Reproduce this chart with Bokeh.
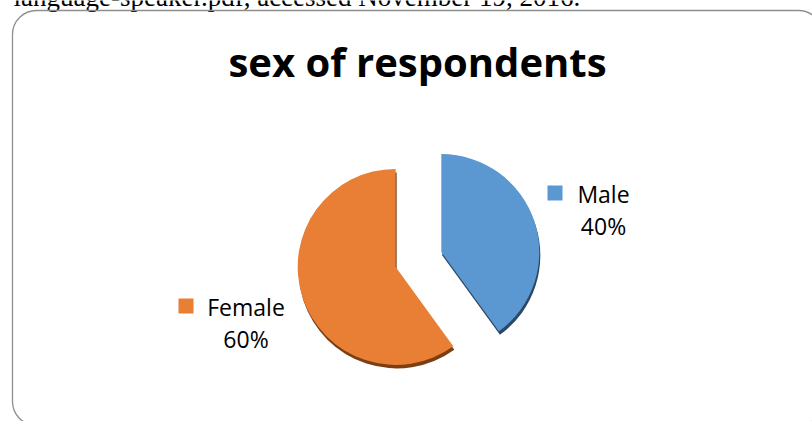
import math
from bokeh.plotting import figure
from bokeh.models import Range1d, ColumnDataSource
from bokeh.core.properties import value
from bokeh.embed import file_html
from bokeh.resources import INLINE

# ---- data ----
categories = ["Male", "Female"]
counts = [40, 60]
colors = ["#5b98d2", "#e97e35"]
shadow_colors = ["#2b4966", "#7a3f14"]

title_text = "sex of respondents"
header_text = "language-speaker.pdf, accessed November 19, 2016."

# ---- layout (page pixels; data y = -page y) ----
W, H = 812, 421
p = figure(width=W, height=H, output_backend="svg", toolbar_location=None,
           x_range=Range1d(0, W), y_range=Range1d(-H, 0),
           min_border=0)
p.axis.visible = False
p.grid.visible = False
p.outline_line_color = None
p.background_fill_color = "white"
p.border_fill_color = "white"

# header text line (cut off at top of page, as in the source document)
p.text(x=[13], y=[3.5], text=[header_text], text_align="left",
       text_baseline="alphabetic", text_font=value("Liberation Serif"),
       text_font_size="27px", text_color="black")

# chart frame (rounded)
p.quad(left=[12], right=[822], top=[-10], bottom=[-425], border_radius=24,
       fill_alpha=0, line_color="#8e8e8e", line_width=1.3)

# title
p.text(x=[417], y=[-61], text=[title_text], text_align="center",
       text_baseline="alphabetic", text_font=value("Open Sans"),
       text_font_style="bold", text_font_size="40px", text_color="black")

# pie geometry
cx, cy = 418, -259
R = 98
explode = 24
total = sum(counts)
start = math.pi / 2
starts, ends, xs, ys = [], [], [], []
a = start
for c in counts:
    sweep = 2 * math.pi * c / total
    e = a - sweep                      # clockwise
    mid = (a + e) / 2
    xs.append(cx + explode * math.cos(mid))
    ys.append(cy + explode * math.sin(mid))
    starts.append(e)
    ends.append(a)
    a = e

src = ColumnDataSource(dict(
    x=xs, y=ys, sx=[v + 1 for v in xs], sy=[v - 3.5 for v in ys],
    start=starts, end=ends, color=colors, shadow=shadow_colors))

p.wedge(x="sx", y="sy", radius=R, start_angle="start", end_angle="end",
        direction="anticlock", fill_color="shadow", line_color=None, source=src)
p.wedge(x="x", y="y", radius=R, start_angle="start", end_angle="end",
        direction="anticlock", fill_color="color", line_color=None, source=src)

# data labels with legend keys
pcts = ["%d%%" % round(100 * c / total) for c in counts]
lab_x = [603, 245.5]
lab_y = [-193, -306]
lab = ColumnDataSource(dict(x=lab_x, y=lab_y, y2=[v - 32 for v in lab_y],
                            name=categories, pct=pcts, color=colors,
                            kx=[554.5, 185.5], ky=[-192.5, -305.5]))
p.rect(x="kx", y="ky", width=15, height=15, fill_color="color",
       line_color=None, source=lab)
p.text(x="x", y="y", text="name", text_align="center", text_baseline="alphabetic",
       text_font=value("Open Sans"), text_font_size="23px", text_color="black",
       source=lab)
p.text(x="x", y="y2", text="pct", text_align="center", text_baseline="alphabetic",
       text_font=value("Open Sans"), text_font_size="23px", text_color="black",
       source=lab)

open("out.html", "w").write(file_html(p, INLINE))
